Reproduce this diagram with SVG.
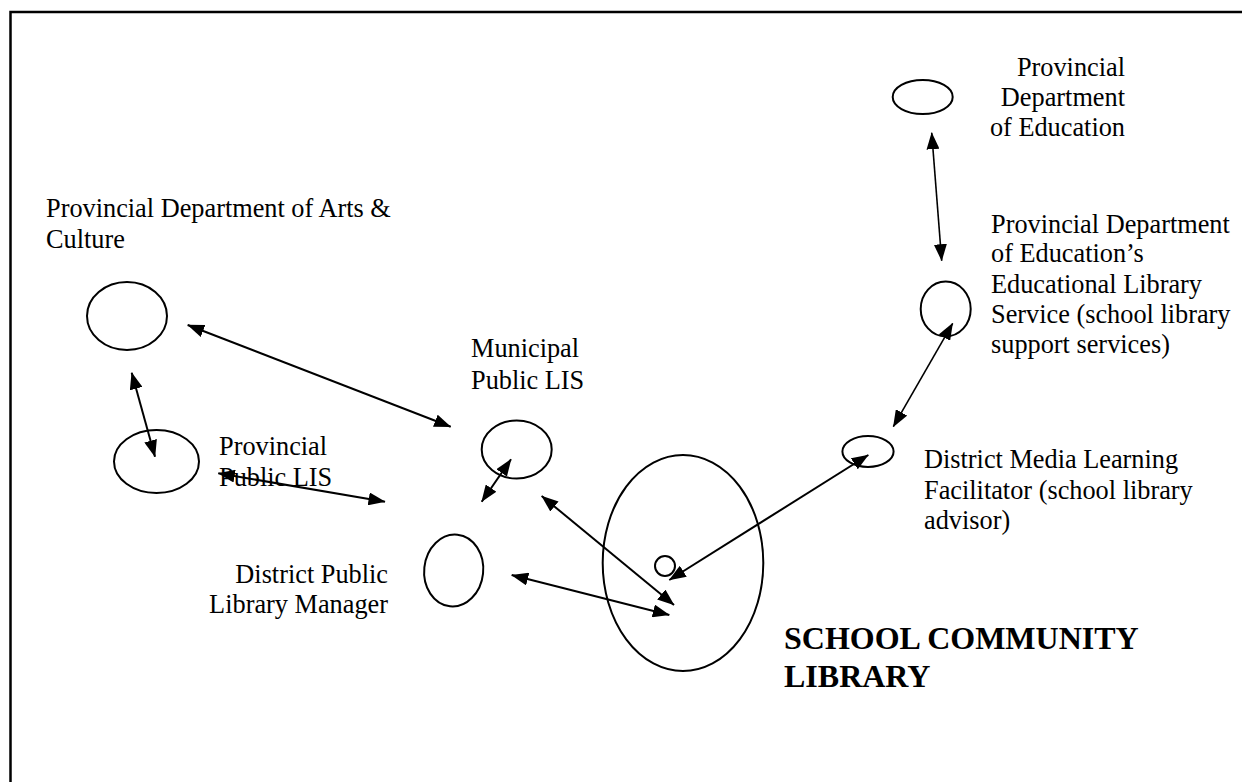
<svg xmlns="http://www.w3.org/2000/svg" width="1242" height="782" viewBox="0 0 1242 782">
  <style>
    .node { fill: none; stroke: #000; stroke-width: 2; }
    .lbl { font-family: "Liberation Serif", "Times New Roman", serif; font-size: 26.3px; fill: #000; }
    .big { font-family: "Liberation Serif", "Times New Roman", serif; font-size: 32px; font-weight: bold; fill: #000; }
    .conn line { stroke: #000; stroke-width: 2; marker-start: url(#ah); marker-end: url(#ah); }
    .conn line.thin { stroke-width: 1.6; }
  </style>
  <defs>
    <marker id="ah" viewBox="0 0 17 13" refX="16.5" refY="6.5" markerWidth="17" markerHeight="13" markerUnits="userSpaceOnUse" orient="auto-start-reverse">
      <path d="M0,0 L17,6.5 L0,13 z" fill="#000"/>
    </marker>
  </defs>
  <rect width="1242" height="782" fill="#fff"/>
  <path d="M10.5,782 V12 H1242" fill="none" stroke="#000" stroke-width="2.5"/>

  <g id="arts-culture">
    <ellipse class="node" cx="127" cy="316" rx="40" ry="34"/>
    <text class="lbl" x="46" y="217">Provincial Department of Arts &amp;</text>
    <text class="lbl" x="46" y="248">Culture</text>
  </g>
  <g id="provincial-public-lis">
    <ellipse class="node" cx="156.5" cy="461.5" rx="42.5" ry="31.5"/>
    <text class="lbl" x="219" y="455">Provincial</text>
    <text class="lbl" x="219" y="486">Public LIS</text>
  </g>
  <g id="municipal-public-lis">
    <ellipse class="node" cx="516.7" cy="449.5" rx="35" ry="29"/>
    <text class="lbl" x="471" y="357">Municipal</text>
    <text class="lbl" x="471" y="389">Public LIS</text>
  </g>
  <g id="district-public-library-manager">
    <ellipse class="node" cx="453.7" cy="570.5" rx="29.5" ry="36" transform="rotate(6 453.7 570.5)"/>
    <text class="lbl" x="388" y="583" text-anchor="end">District Public</text>
    <text class="lbl" x="388" y="613" text-anchor="end">Library Manager</text>
  </g>
  <g id="school-community-library">
    <ellipse class="node" cx="683" cy="563" rx="80.3" ry="108"/>
    <circle class="node" cx="665" cy="566" r="10"/>
    <text class="big" x="784" y="649">SCHOOL COMMUNITY</text>
    <text class="big" x="784" y="687">LIBRARY</text>
  </g>
  <g id="provincial-department-of-education">
    <ellipse class="node" cx="922.7" cy="97" rx="30" ry="17"/>
    <text class="lbl" x="1125" y="76" text-anchor="end">Provincial</text>
    <text class="lbl" x="1125" y="106" text-anchor="end">Department</text>
    <text class="lbl" x="1125" y="136" text-anchor="end">of Education</text>
  </g>
  <g id="educational-library-service">
    <ellipse class="node" cx="945.7" cy="309" rx="25" ry="27.5"/>
    <text class="lbl" x="991" y="233">Provincial Department</text>
    <text class="lbl" x="991" y="262">of Education’s</text>
    <text class="lbl" x="991" y="292.5">Educational Library</text>
    <text class="lbl" x="991" y="323">Service (school library</text>
    <text class="lbl" x="991" y="353">support services)</text>
  </g>
  <g id="district-media-learning-facilitator">
    <ellipse class="node" cx="868" cy="451.5" rx="25.6" ry="15.5"/>
    <text class="lbl" x="924" y="468">District Media Learning</text>
    <text class="lbl" x="924" y="499">Facilitator (school library</text>
    <text class="lbl" x="924" y="529">advisor)</text>
  </g>

  <g id="connectors" class="conn">
    <line x1="187.7" y1="325" x2="450.7" y2="426.7"/>
    <line x1="131.7" y1="372.7" x2="155" y2="456.7"/>
    <line x1="218.3" y1="473.3" x2="385" y2="501.7"/>
    <line x1="511" y1="459.3" x2="481.7" y2="501.7"/>
    <line x1="541.7" y1="496" x2="674" y2="605"/>
    <line x1="511.7" y1="575" x2="669.3" y2="615"/>
    <line x1="868.3" y1="455" x2="669.3" y2="580"/>
    <line class="thin" x1="952.7" y1="323.3" x2="893.3" y2="426.7"/>
    <line class="thin" x1="931.7" y1="132.7" x2="941.7" y2="260.7"/>
  </g>
</svg>
